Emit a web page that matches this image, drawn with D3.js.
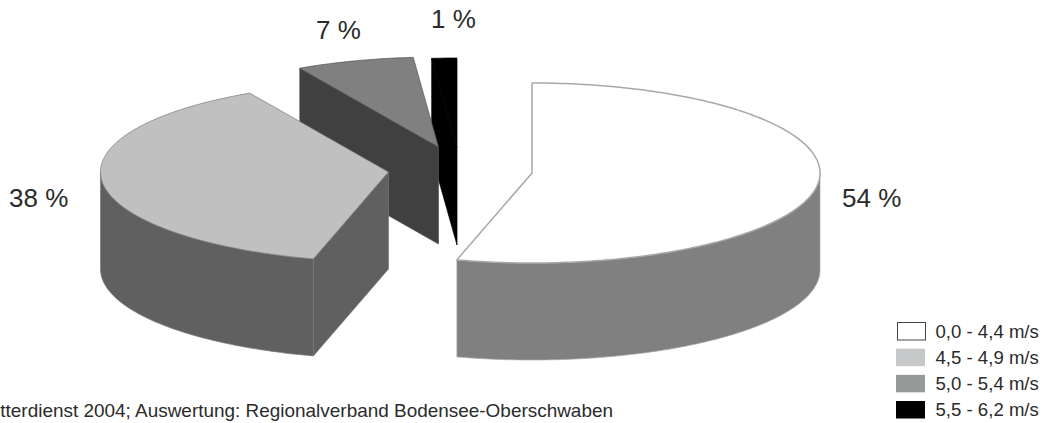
<!DOCTYPE html>
<html><head><meta charset="utf-8">
<script src="https://cdn.jsdelivr.net/npm/d3@7"></script>
<style>html,body{margin:0;padding:0;background:#fff;overflow:hidden}svg{display:block}text{font-family:"Liberation Sans",Arial,sans-serif;fill:#2b2b2b}</style>
</head><body><div id="chart"></div>
<script>
const categories = ["0,0 - 4,4 m/s","4,5 - 4,9 m/s","5,0 - 5,4 m/s","5,5 - 6,2 m/s"];
const values = [54.2, 37.8, 6.6, 1.4];
const valueLabels = ["54 %","38 %","7 %","1 %"];
const sourceText = "tterdienst 2004; Auswertung: Regionalverband Bodensee-Oberschwaben";

const topColors = ["#ffffff","#c0c0c0","#808080","#000000"];
const sideColors = ["#808080","#606060","#404040","#000000"];
const edgeColors = ["#a8a8a8","#777777","#555555","#000000"];
const legendColors = ["#ffffff","#c6c7c8","#959a99","#000000"];

const W = 1048, H = 423;
const sliceCenters = [[532,173],[388.5,172],[438.5,147],[457,148]];
const labelPos = [[842,207],[9,207],[316,39],[431,28]];
const depth = 97;

const svg = d3.select("#chart").append("svg").attr("width",W).attr("height",H);
const rx = d3.scaleLinear().domain([0,1]).range([0,288]);
const ry = d3.scaleLinear().domain([0,1]).range([0,90]);
const arcs = d3.pie().sort(null).value(d=>d)(values);
const line = d3.line();

const pt = (c,a,r=1,dz=0)=>[c[0]+rx(r)*Math.sin(a), c[1]-ry(r)*Math.cos(a)+dz];
const sweep = (a0,a1)=>{const n=Math.max(2,Math.ceil((a1-a0)*60));return d3.range(n+1).map(i=>a0+(a1-a0)*i/n);};

// painted back-to-front: smallest, rearmost slice first
const order = d3.range(values.length).reverse();
const g = svg.append("g");
order.forEach(i=>{
  const s = arcs[i], c = sliceCenters[i];
  if (Math.sin(s.startAngle) < -1e-6) {
    const a = s.startAngle;
    g.append("path").attr("class","wall")
      .attr("d", line([pt(c,a,0),pt(c,a),pt(c,a,1,depth),pt(c,a,0,depth)])+"Z")
      .attr("fill",sideColors[i]).attr("stroke",edgeColors[i]).attr("stroke-width",0.7);
  }
  const a0 = Math.max(s.startAngle,Math.PI/2), a1 = Math.min(s.endAngle,Math.PI*1.5);
  if (a1 > a0) {
    const upper = sweep(a0,a1).map(a=>pt(c,a));
    const lower = sweep(a0,a1).reverse().map(a=>pt(c,a,1,depth));
    g.append("path").attr("class","side")
      .attr("d", line(upper.concat(lower))+"Z")
      .attr("fill",sideColors[i]).attr("stroke",edgeColors[i]).attr("stroke-width",0.7);
  }
  const top = [pt(c,0,0)].concat(sweep(s.startAngle,s.endAngle).map(a=>pt(c,a)));
  g.append("path").attr("class","top")
    .attr("d", line(top)+"Z")
    .attr("fill",topColors[i]).attr("stroke",edgeColors[i]).attr("stroke-width",i===0?1.5:0.7)
    .attr("stroke-linejoin","round");
});

svg.selectAll("text.value").data(valueLabels).join("text").attr("class","value")
  .attr("x",(d,i)=>labelPos[i][0]).attr("y",(d,i)=>labelPos[i][1])
  .attr("font-size",26).text(d=>d);

const legendY = d3.scalePoint().domain(categories).range([322,400.5]);
const lg = svg.selectAll("g.legend").data(categories).join("g").attr("class","legend");
lg.append("rect").attr("x",(d,i)=>i===0?897.5:896).attr("y",d=>legendY(d)+0.5)
  .attr("width",(d,i)=>i===0?28:29).attr("height",17.5)
  .attr("fill",(d,i)=>legendColors[i]).attr("stroke",(d,i)=>i===0?"#444":"none").attr("stroke-width",1);
lg.append("text").attr("x",935.5).attr("y",d=>legendY(d)+15.5).attr("font-size",18.6).text(d=>d);

svg.append("text").attr("x",613).attr("y",417).attr("text-anchor","end").attr("font-size",18.95).text(sourceText);
</script>
</body></html>
